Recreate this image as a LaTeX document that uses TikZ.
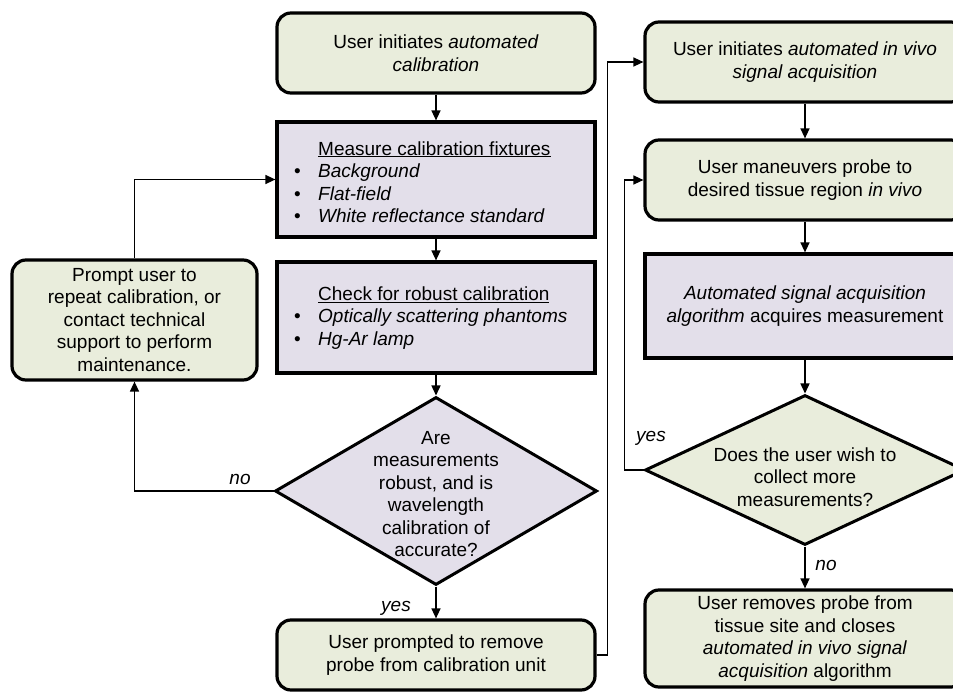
\documentclass[tikz,border=0pt]{standalone}
\usepackage{fontspec}
\setmainfont{Liberation Sans}
\usetikzlibrary{shapes.geometric,arrows.meta}
\definecolor{boxgreen}{RGB}{233,237,220}
\definecolor{boxpurple}{RGB}{227,223,234}
\begin{document}
\begin{tikzpicture}[x=1pt,y=-1pt,
  txt/.style={font=\fontsize{19}{22.5}\selectfont, align=center, inner sep=0pt},
  rbox/.style={txt, draw, line width=3.2pt, rounded corners=14pt, fill=boxgreen, minimum width=318pt},
  pbox/.style={txt, draw, line width=3.2pt, fill=boxpurple, minimum width=318pt},
  diam/.style={draw, shape=diamond, line width=3pt, inner sep=0pt},
  conn/.style={line width=1.4pt, -{Triangle[length=10pt,width=9pt]}},
  lab/.style={font=\fontsize{19}{22}\selectfont\itshape, inner sep=0pt}
]
\useasboundingbox (0,0) rectangle (953,698);
\clip (0,0) rectangle (953,698);

% left column
\node[rbox, minimum height=80pt] (b1) at (436,53) {User initiates \textit{automated}\\\textit{calibration}};
\node[pbox, minimum height=115pt] (m) at (436,179.5) {};
\node[txt, align=left, anchor=west] (mt) at (294,182) {\hspace*{24pt}\underline{Measure calibration fixtures}\\
\makebox[24pt][l]{\textbullet}\textit{Background}\\
\makebox[24pt][l]{\textbullet}\textit{Flat-field}\\
\makebox[24pt][l]{\textbullet}\textit{White reflectance standard}};
\node[pbox, minimum height=111pt] (c) at (436,317.5) {};
\node[txt, align=left, anchor=west] (ct) at (294,318) {\hspace*{24pt}\underline{Check for robust calibration}\\
\makebox[24pt][l]{\textbullet}\textit{Optically scattering phantoms}\\
\makebox[24pt][l]{\textbullet}\textit{Hg-Ar lamp}};
\node[diam, fill=boxpurple, minimum width=322pt, minimum height=188pt] (d1) at (436,491) {};
\node[txt] (d1t) at (436,494) {Are\\measurements\\robust, and is\\wavelength\\calibration of\\accurate?};
\node[rbox, minimum height=70pt] (p5) at (436,655) {User prompted to remove\\probe from calibration unit};
\node[rbox, minimum width=245pt, minimum height=120pt] (p6) at (134.5,320) {Prompt user to\\repeat calibration, or\\contact technical\\support to perform\\maintenance.};

% right column
\node[rbox, minimum width=320pt, minimum height=80pt] (a1) at (805,62) {User initiates \textit{automated in vivo}\\\textit{signal acquisition}};
\node[rbox, minimum width=320pt, minimum height=80pt] (a2) at (805,180) {User maneuvers probe to\\desired tissue region \textit{in vivo}};
\node[pbox, minimum width=320pt, minimum height=104pt] (a3) at (805,306) {\textit{Automated signal acquisition}\\\textit{algorithm} acquires measurement};
\node[diam, fill=boxgreen, minimum width=320pt, minimum height=150pt] (d2) at (805,470) {};
\node[txt] (d2t) at (805,477) {Does the user wish to\\collect more\\measurements?};
\node[rbox, minimum width=320pt, minimum height=97pt] (a4) at (805,638.5) {User removes probe from\\tissue site and closes\\\textit{automated in vivo signal}\\\textit{acquisition} algorithm};

% connectors
\draw[conn] (b1) -- (m);
\draw[conn] (m) -- (c);
\draw[conn] (c) -- (d1);
\draw[conn] (d1) -- (p5);
\draw[conn] (d1.west) -| (p6.south);
\draw[conn] (p6.north) |- (m.west);
\draw[conn] (p5.east) -- ++(11,0) |- (a1.west);
\draw[conn] (a1) -- (a2);
\draw[conn] (a2) -- (a3);
\draw[conn] (a3) -- (d2);
\draw[conn] (d2) -- (a4);
\draw[conn] (d2.west) -- ++(-19,0) |- (a2.west);

% labels
\node[lab] (lno1) at (240,479) {no};
\node[lab] (lyes1) at (396,608) {yes};
\node[lab] (lyes2) at (651,438) {yes};
\node[lab] (lno2) at (826,565) {no};
\end{tikzpicture}
\end{document}
